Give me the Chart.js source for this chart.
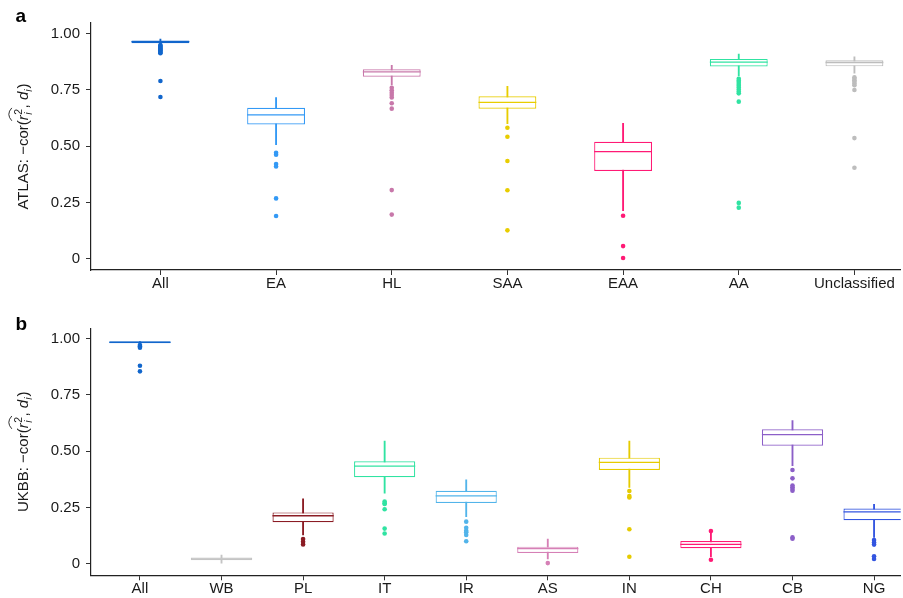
<!DOCTYPE html>
<html><head><meta charset="utf-8">
<script src="https://cdn.jsdelivr.net/npm/chart.js@4.4.1/dist/chart.umd.min.js"></script>
<style>html,body{margin:0;padding:0;background:#fff;overflow:hidden}canvas{display:block;position:absolute;left:0}</style>
</head><body>
<canvas id="ca" width="903" height="300" style="top:0;width:903px;height:300px"></canvas>
<canvas id="cb" width="903" height="298" style="top:300px;width:903px;height:298px"></canvas>
<script>
// ---------- shared tick labels ----------
const yTicks = [0, 0.25, 0.5, 0.75, 1];
const yTickLabels = ['0', '0.25', '0.50', '0.75', '1.00'];

// ---------- panel a (ATLAS) ----------
const catsA = ['All', 'EA', 'HL', 'SAA', 'EAA', 'AA', 'Unclassified'];
const colorsA = ['#1166cc', '#3399f5', '#c878aa', '#e8cd00', '#ff1a75', '#30e3a2', '#bdbdbd'];
const loA  = [0.952, 0.507, 0.772, 0.600, 0.213, 0.812, 0.825];
const q1A  = [0.958, 0.597, 0.809, 0.667, 0.390, 0.854, 0.855];
const medA = [0.965, 0.639, 0.830, 0.695, 0.476, 0.874, 0.872];
const q3A  = [0.970, 0.671, 0.842, 0.722, 0.520, 0.888, 0.882];
const hiA  = [0.976, 0.716, 0.860, 0.766, 0.602, 0.909, 0.897];
const outA = [
  [0.950, 0.946, 0.942, 0.938, 0.934, 0.930, 0.926, 0.921, 0.917, 0.913, 0.790, 0.719],
  [0.471, 0.462, 0.421, 0.410, 0.268, 0.190],
  [0.760, 0.749, 0.738, 0.728, 0.717, 0.691, 0.667, 0.305, 0.196],
  [0.582, 0.542, 0.434, 0.304, 0.126],
  [0.191, 0.056, 0.003],
  [0.800, 0.792, 0.785, 0.777, 0.769, 0.761, 0.752, 0.743, 0.735, 0.698, 0.248, 0.227],
  [0.806, 0.800, 0.793, 0.786, 0.779, 0.771, 0.750, 0.536, 0.404]
];

// ---------- panel b (UKBB) ----------
const catsB = ['All', 'WB', 'PL', 'IT', 'IR', 'AS', 'IN', 'CH', 'CB', 'NG'];
const colorsB = ['#1166cc', '#c4c4c4', '#8b1c24', '#30e3a2', '#52b4ea', '#d680b6', '#e6cb00', '#ff1a75', '#8c5fc8', '#3355e0'];
const loB  = [0.980, 0.004, 0.129, 0.314, 0.210, 0.022, 0.340, 0.032, 0.436, 0.118];
const q1B  = [0.980, 0.017, 0.185, 0.385, 0.271, 0.049, 0.417, 0.070, 0.525, 0.194];
const medB = [0.984, 0.023, 0.214, 0.434, 0.302, 0.068, 0.451, 0.087, 0.574, 0.231];
const q3B  = [0.987, 0.029, 0.229, 0.456, 0.325, 0.077, 0.472, 0.102, 0.598, 0.246];
const hiB  = [0.987, 0.040, 0.289, 0.545, 0.373, 0.110, 0.546, 0.136, 0.636, 0.265];
const outB = [
  [0.972, 0.966, 0.960, 0.880, 0.855],
  [],
  [0.111, 0.099, 0.087],
  [0.277, 0.270, 0.266, 0.243, 0.157, 0.135],
  [0.188, 0.161, 0.148, 0.141, 0.129, 0.101],
  [0.004],
  [0.324, 0.302, 0.295, 0.154, 0.032],
  [0.146, 0.019],
  [0.417, 0.380, 0.348, 0.341, 0.333, 0.325, 0.118, 0.112],
  [0.106, 0.095, 0.086, 0.034, 0.022]
];

const FONT = '"Liberation Sans", Arial, Helvetica, sans-serif';
const INK = '#1a1a1a';

function drawYTitle(ctx, prefix, bx, cy) {
  const fs = 15, ss = 10.5;
  const reg = fs + 'px ' + FONT, ita = 'italic ' + fs + 'px ' + FONT;
  const sreg = ss + 'px ' + FONT, sita = 'italic ' + ss + 'px ' + FONT;
  const m = (t, f) => { ctx.font = f; return ctx.measureText(t).width; };
  const t1 = prefix + ': \u2212cor(';
  const w1 = m(t1, reg), wr = m('r', ita), w2 = Math.max(m('2', sreg), m('i', sita)) + 1;
  const wc = m(', ', reg), wd = m('d', ita), wi = m('i', sita) + 1, wp = m(')', reg);
  const total = w1 + wr + w2 + wc + wd + wi + wp;
  ctx.save();
  ctx.translate(bx, cy);
  ctx.rotate(-Math.PI / 2);
  ctx.fillStyle = INK;
  ctx.strokeStyle = INK;
  ctx.textBaseline = 'alphabetic';
  ctx.textAlign = 'left';
  let x = -total / 2;
  ctx.font = reg; ctx.fillText(t1, x, 0); x += w1;
  const hatStart = x;
  ctx.font = ita; ctx.fillText('r', x, 0); x += wr;
  ctx.font = sreg; ctx.fillText('2', x + 0.5, -6.5);
  ctx.font = sita; ctx.fillText('i', x + 0.5, 3.5);
  x += w2;
  const hatEnd = x;
  ctx.font = reg; ctx.fillText(', ', x, 0); x += wc;
  ctx.font = ita; ctx.fillText('d', x, 0); x += wd;
  ctx.font = sita; ctx.fillText('i', x, 3.5); x += wi;
  ctx.font = reg; ctx.fillText(')', x, 0);
  // wide hat over r_i^2
  ctx.lineWidth = 0.9;
  ctx.beginPath();
  ctx.moveTo(hatStart - 0.5, -16.5);
  ctx.quadraticCurveTo((hatStart + hatEnd) / 2, -22.5, hatEnd + 0.5, -16.5);
  ctx.stroke();
  ctx.restore();
}

function makePanel(id, cats, colors, lo, q1, med, q3, hi, outs, boxW, yMin, yMax, padTop, xH, prefix, letter, letterY) {
  const outPts = [], outCols = [];
  outs.forEach((arr, i) => arr.forEach(v => { outPts.push({ x: i, y: v }); outCols.push(colors[i]); }));
  const halfBoxPx = (c) => {
    const s = c.chart.scales.x;
    return Math.abs(s.getPixelForValue(boxW / 2) - s.getPixelForValue(0));
  };
  const xMax = -0.6 + (903 - 91) / (cats.length === 7 ? 116 : 81.8);
  const annot = {
    id: 'annot' + id,
    afterDraw(chart) {
      const ctx = chart.ctx;
      const a = chart.chartArea;
      drawYTitle(ctx, prefix, 28.3, (a.top + a.bottom) / 2);
      ctx.save();
      ctx.fillStyle = '#000';
      ctx.font = 'bold 19px ' + FONT;
      ctx.textBaseline = 'alphabetic';
      ctx.fillText(letter, 15.5, letterY);
      ctx.restore();
    }
  };
  return new Chart(document.getElementById(id), {
    type: 'bar',
    data: {
      datasets: [
        {
          type: 'scatter', order: 0,
          data: outPts,
          pointRadius: 2.3, pointHoverRadius: 2.3,
          pointBackgroundColor: outCols, pointBorderWidth: 0, pointBorderColor: outCols
        },
        {
          type: 'scatter', order: 1,
          data: cats.map((c, i) => ({ x: i, y: med[i] })),
          pointStyle: 'line', pointRadius: halfBoxPx, pointHoverRadius: halfBoxPx,
          pointBorderColor: colors, pointBorderWidth: 1.3, pointBackgroundColor: colors
        },
        {
          type: 'bar', order: 2, grouped: false,
          data: cats.map((c, i) => ({ x: i, y: [q1[i], q3[i]] })),
          backgroundColor: '#ffffff', borderColor: colors, borderWidth: 1.2,
          borderSkipped: false, barPercentage: boxW, categoryPercentage: 1
        },
        {
          type: 'bar', order: 3, grouped: false,
          data: cats.map((c, i) => ({ x: i, y: [lo[i], hi[i]] })),
          backgroundColor: colors, borderWidth: 0, barThickness: 1.2
        }
      ]
    },
    options: {
      responsive: false, animation: false, events: [],
      layout: { padding: { top: padTop, left: 0, right: 0, bottom: 0 } },
      plugins: { legend: { display: false }, tooltip: { enabled: false } },
      scales: {
        x: {
          type: 'linear', min: -0.6, max: xMax, offset: false,
          afterBuildTicks: s => { s.ticks = cats.map((c, i) => ({ value: i })); },
          afterFit: s => { s.height = xH; s.paddingLeft = 0; s.paddingRight = 0; },
          ticks: {
            callback: v => cats[v], autoSkip: false, maxRotation: 0, minRotation: 0,
            color: INK, padding: 1, font: { family: FONT, size: 15, lineHeight: 1 }
          },
          grid: { display: true, offset: false, drawOnChartArea: false, drawTicks: true, tickLength: 5, color: '#333', lineWidth: 1 },
          border: { display: true, color: '#222', width: 1.2 }
        },
        y: {
          type: 'linear', min: yMin, max: yMax,
          afterBuildTicks: s => { s.ticks = yTicks.map(v => ({ value: v })); },
          afterFit: s => { s.width = 91; s.paddingTop = 0; s.paddingBottom = 0; },
          ticks: {
            callback: v => yTickLabels[yTicks.indexOf(v)],
            color: INK, padding: 6, font: { family: FONT, size: 15 }
          },
          grid: { display: true, drawOnChartArea: false, drawTicks: true, tickLength: 5, color: '#333', lineWidth: 1 },
          border: { display: true, color: '#222', width: 1.2 }
        }
      }
    },
    plugins: [annot]
  });
}

makePanel('ca', catsA, colorsA, loA, q1A, medA, q3A, hiA, outA, 0.5, -0.0502, 1.0476, 23, 30, 'ATLAS', 'a', 21.5);
makePanel('cb', catsB, colorsB, loB, q1B, medB, q3B, hiB, outB, 0.75, -0.0502, 1.046, 28.3, 22.7, 'UKBB', 'b', 30);
</script>
</body></html>
